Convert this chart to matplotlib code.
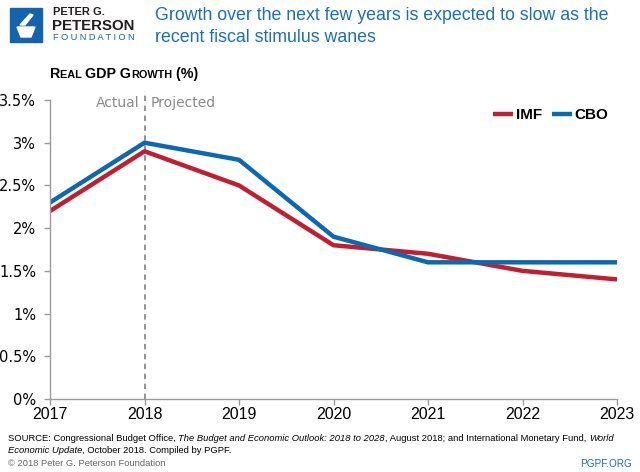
import matplotlib
matplotlib.use("Agg")
from matplotlib import pyplot as plt
from matplotlib import font_manager
from matplotlib.patches import Rectangle, Polygon
from matplotlib.ticker import FuncFormatter, MultipleLocator

years = [2017, 2018, 2019, 2020, 2021, 2022, 2023]
imf = [2.2, 2.9, 2.5, 1.8, 1.7, 1.5, 1.4]
cbo = [2.3, 3.0, 2.8, 1.9, 1.6, 1.6, 1.6]

RED = "#c11f2f"
BLUE = "#0b68b3"
TITLE_BLUE = "#1b6fb6"
GREY = "#9a9a9a"

names = {f.name for f in font_manager.fontManager.ttflist}
if "Liberation Sans Narrow" in names:
    NARROW = ["Liberation Sans Narrow", "DejaVu Sans"]
else:
    NARROW = ["Liberation Sans", "DejaVu Sans"]


def fit(fig, txt, width_px):
    # shrink/grow a text so it spans width_px
    r = fig.canvas.get_renderer()
    w = txt.get_window_extent(r).width
    txt.set_fontsize(txt.get_fontsize() * width_px / w)


def run(fig, x, y, pieces, scale, width_px=None, **kw):
    # place text pieces one after another on a shared baseline
    r = fig.canvas.get_renderer()
    if width_px is not None:
        w = 0
        for txt, rel, extra in pieces:
            t = fig.text(0, 0, txt, fontsize=scale * rel, **kw, **extra)
            w += t.get_window_extent(r).width
            t.remove()
        scale *= width_px / w
    for txt, rel, extra in pieces:
        t = fig.text(x / 640, 1 - y / 472, txt, fontsize=scale * rel,
                     va="baseline", **kw, **extra)
        x += t.get_window_extent(r).width
    return scale


def main():
    fig = plt.figure(figsize=(6.4, 4.72), dpi=100)
    ax = fig.add_axes([50 / 640, 1 - 399 / 472, 567 / 640, 299 / 472])

    ax.plot(years, imf, color=RED, lw=3.2, label="IMF", solid_capstyle="butt")
    ax.plot(years, cbo, color=BLUE, lw=3.2, label="CBO", solid_capstyle="butt")

    ax.set_xlim(2017, 2023)
    ax.set_ylim(0, 3.5)
    ax.yaxis.set_major_locator(MultipleLocator(0.5))
    ax.yaxis.set_major_formatter(FuncFormatter(lambda v, p: f"{v:g}%"))
    ax.set_xticks(years)
    for s in ("top", "right"):
        ax.spines[s].set_visible(False)
    for s in ("left", "bottom"):
        ax.spines[s].set_color(GREY)
        ax.spines[s].set_linewidth(1)
    ax.tick_params(axis="both", colors=GREY, length=4, width=1,
                   labelcolor="black", labelsize=10.5)
    ax.tick_params(axis="y", pad=6)
    ax.tick_params(axis="x", pad=2)
    for t in ax.get_xticklabels():
        t.set_family(NARROW)
        t.set_fontsize(11.5)

    # actual / projected divider
    ax.plot([2018, 2018], [0, 3.6], ls=(0, (3, 2.5)), color="#8a8a8a",
            lw=1.3, clip_on=False, zorder=1)
    ax.text(2017.95, 3.47, "Actual", ha="right", va="center", color="#8a8a8a",
            fontsize=10)
    ax.text(2018.06, 3.47, "Projected", ha="left", va="center",
            color="#8a8a8a", fontsize=10)

    ax.legend(loc="center right", bbox_to_anchor=(0.985, 0.95), ncol=2,
              frameon=False, handlelength=1.3, handletextpad=0.15,
              columnspacing=0.7, borderaxespad=0, borderpad=0,
              prop={"family": NARROW, "weight": "bold", "size": 11})

    # logo
    fig.patches.append(Rectangle((10 / 640, 1 - 42 / 472), 32 / 640, 34 / 472,
                                 transform=fig.transFigure, color="#1463ad"))
    fig.patches.append(Polygon([(17 / 640, 1 - 27 / 472), (35 / 640, 1 - 27 / 472),
                                (31 / 640, 1 - 37 / 472), (21 / 640, 1 - 37 / 472)],
                               closed=True, transform=fig.transFigure,
                               color="white"))
    fig.patches.append(Polygon([(20 / 640, 1 - 25 / 472), (30 / 640, 1 - 14 / 472),
                                (33 / 640, 1 - 15 / 472), (25 / 640, 1 - 25 / 472)],
                               closed=True, transform=fig.transFigure,
                               color="white"))
    t1 = fig.text(53 / 640, 1 - 12 / 472, "PETER G.", fontsize=9, weight="bold",
                  family=NARROW, va="center", color="#231f20")
    t2 = fig.text(52 / 640, 1 - 25.5 / 472, "PETERSON", fontsize=13, weight="bold",
                  family=NARROW, va="center", color="#231f20")
    t3 = fig.text(53 / 640, 1 - 38 / 472, "F O U N D A T I O N", fontsize=6.3,
                  family=NARROW, va="center", color="#1463ad")

    # title
    h1 = fig.text(155 / 640, 1 - 15 / 472,
                  "Growth over the next few years is expected to slow as the",
                  fontsize=14.5, family=NARROW, color=TITLE_BLUE, va="center")
    h2 = fig.text(155 / 640, 1 - 38 / 472, "recent fiscal stimulus wanes",
                  fontsize=14.5, family=NARROW, color=TITLE_BLUE, va="center")

    fig.canvas.draw()
    fit(fig, t1, 52)
    fit(fig, t2, 83)
    fit(fig, t3, 82)
    fit(fig, h1, 455)
    h2.set_fontsize(h1.get_fontsize())

    # small-caps subtitle
    caps = {"weight": "bold"}
    run(fig, 50, 78, [("R", 1.0, caps), ("EAL ", 0.76, caps),
                      ("GDP G", 1.0, caps), ("ROWTH", 0.76, caps),
                      (" (%)", 1.0, caps)],
        11, width_px=148, family=NARROW)

    # footer
    it = {"style": "italic"}
    up = {}
    s = run(fig, 8, 441, [
        ("SOURCE: Congressional Budget Office, ", 1, up),
        ("The Budget and Economic Outlook: 2018 to 2028", 1, it),
        (", August 2018; and International Monetary Fund, ", 1, up),
        ("World", 1, it)], 7, width_px=600, family=NARROW)
    run(fig, 8, 453, [("Economic Update", 1, it),
                      (", October 2018. Compiled by PGPF.", 1, up)],
        s, family=NARROW)
    fig.text(8 / 640, 1 - 464 / 472, "\u00a9 2018 Peter G. Peterson Foundation",
             fontsize=s, family=NARROW, color="#666666", va="center")
    fig.text(632 / 640, 1 - 464 / 472, "PGPF.ORG", fontsize=s + 0.5,
             family=NARROW, color=TITLE_BLUE, va="center", ha="right")

    fig.savefig("out.png", dpi=100)


if __name__ == "__main__":
    main()
